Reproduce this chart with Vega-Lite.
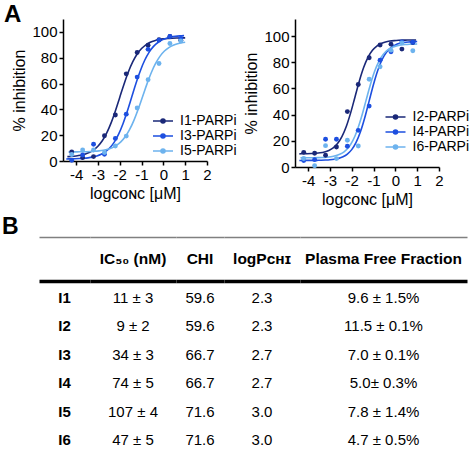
{
  "$schema": "https://vega.github.io/schema/vega-lite/v6.json",
  "padding": {"left": 2, "top": 3, "right": 0, "bottom": 0},
  "background": "white",
  "config": {
    "font": "Liberation Sans",
    "view": {"stroke": null},
    "title": {"color": "black", "font": "Liberation Sans"},
    "axis": {"domainColor": "black", "domainWidth": 1.5, "tickColor": "black", "tickWidth": 1.5, "tickSize": 4, "labelColor": "black", "labelFontSize": 15, "titleFontSize": 16, "titleFontWeight": "normal", "titleColor": "black", "grid": false, "labelPadding": 2, "labelOverlap": false},
    "legend": {"labelColor": "black", "labelFontSize": 14}
  },
  "datasets": {
    "pts": [
      {"s":"I1-PARPi","x":-4.2,"y":7},{"s":"I1-PARPi","x":-3.7,"y":2.6},{"s":"I1-PARPi","x":-3.2,"y":3.4},{"s":"I1-PARPi","x":-2.7,"y":19.6},{"s":"I1-PARPi","x":-2.2,"y":35.6},{"s":"I1-PARPi","x":-1.7,"y":67.5},{"s":"I1-PARPi","x":-1.2,"y":84},{"s":"I1-PARPi","x":-0.7,"y":89.7},{"s":"I1-PARPi","x":-0.2,"y":94},{"s":"I1-PARPi","x":0.3,"y":96.5},{"s":"I1-PARPi","x":0.8,"y":93.5},
      {"s":"I3-PARPi","x":-4.2,"y":0.5},{"s":"I3-PARPi","x":-3.7,"y":4.6},{"s":"I3-PARPi","x":-3.2,"y":13},{"s":"I3-PARPi","x":-2.7,"y":5.2},{"s":"I3-PARPi","x":-2.2,"y":17.5},{"s":"I3-PARPi","x":-1.7,"y":36.3},{"s":"I3-PARPi","x":-1.2,"y":65},{"s":"I3-PARPi","x":-0.7,"y":86.5},{"s":"I3-PARPi","x":-0.2,"y":93.6},{"s":"I3-PARPi","x":0.3,"y":96.5},{"s":"I3-PARPi","x":0.8,"y":95},
      {"s":"I5-PARPi","x":-4.2,"y":5},{"s":"I5-PARPi","x":-3.7,"y":8.5},{"s":"I5-PARPi","x":-3.2,"y":8.5},{"s":"I5-PARPi","x":-2.7,"y":6.5},{"s":"I5-PARPi","x":-2.2,"y":11.6},{"s":"I5-PARPi","x":-1.7,"y":19.3},{"s":"I5-PARPi","x":-1.2,"y":41},{"s":"I5-PARPi","x":-0.7,"y":63},{"s":"I5-PARPi","x":-0.2,"y":75.5},{"s":"I5-PARPi","x":0.3,"y":91},{"s":"I5-PARPi","x":0.8,"y":93},
      {"s":"I2-PARPi","x":-4.2,"y":11.2},{"s":"I2-PARPi","x":-3.7,"y":10.5},{"s":"I2-PARPi","x":-3.2,"y":9},{"s":"I2-PARPi","x":-2.7,"y":15.3},{"s":"I2-PARPi","x":-2.2,"y":42.3},{"s":"I2-PARPi","x":-1.7,"y":63},{"s":"I2-PARPi","x":-1.2,"y":83.4},{"s":"I2-PARPi","x":-0.7,"y":93.2},{"s":"I2-PARPi","x":-0.2,"y":93.8},{"s":"I2-PARPi","x":0.3,"y":90},{"s":"I2-PARPi","x":0.8,"y":95},
      {"s":"I4-PARPi","x":-4.2,"y":5},{"s":"I4-PARPi","x":-3.7,"y":5.6},{"s":"I4-PARPi","x":-3.2,"y":21.2},{"s":"I4-PARPi","x":-2.7,"y":21.2},{"s":"I4-PARPi","x":-2.2,"y":15.8},{"s":"I4-PARPi","x":-1.7,"y":28},{"s":"I4-PARPi","x":-1.2,"y":46.5},{"s":"I4-PARPi","x":-0.7,"y":81.6},{"s":"I4-PARPi","x":-0.2,"y":88},{"s":"I4-PARPi","x":0.3,"y":95.5},{"s":"I4-PARPi","x":0.8,"y":95.2},
      {"s":"I6-PARPi","x":-4.2,"y":6.5},{"s":"I6-PARPi","x":-3.7,"y":1},{"s":"I6-PARPi","x":-3.2,"y":16.3},{"s":"I6-PARPi","x":-2.7,"y":6.4},{"s":"I6-PARPi","x":-2.2,"y":20.4},{"s":"I6-PARPi","x":-1.7,"y":16},{"s":"I6-PARPi","x":-1.2,"y":67},{"s":"I6-PARPi","x":-0.7,"y":76.5},{"s":"I6-PARPi","x":-0.2,"y":89.2},{"s":"I6-PARPi","x":0.3,"y":94.8},{"s":"I6-PARPi","x":0.8,"y":88.8}
    ],
    "fit": [
      {"s":"I1-PARPi","x":-4.4,"y":3.37},{"s":"I1-PARPi","x":-4.2,"y":3.58},{"s":"I1-PARPi","x":-4.0,"y":3.92},{"s":"I1-PARPi","x":-3.8,"y":4.44},{"s":"I1-PARPi","x":-3.6,"y":5.27},{"s":"I1-PARPi","x":-3.4,"y":6.54},{"s":"I1-PARPi","x":-3.2,"y":8.49},{"s":"I1-PARPi","x":-3.0,"y":11.41},{"s":"I1-PARPi","x":-2.8,"y":15.65},{"s":"I1-PARPi","x":-2.6,"y":21.57},{"s":"I1-PARPi","x":-2.4,"y":29.33},{"s":"I1-PARPi","x":-2.2,"y":38.79},{"s":"I1-PARPi","x":-2.0,"y":49.25},{"s":"I1-PARPi","x":-1.8,"y":59.71},{"s":"I1-PARPi","x":-1.6,"y":69.17},{"s":"I1-PARPi","x":-1.4,"y":76.93},{"s":"I1-PARPi","x":-1.2,"y":82.85},{"s":"I1-PARPi","x":-1.0,"y":87.09},{"s":"I1-PARPi","x":-0.8,"y":90.01},{"s":"I1-PARPi","x":-0.6,"y":91.96},{"s":"I1-PARPi","x":-0.4,"y":93.23},{"s":"I1-PARPi","x":-0.2,"y":94.06},{"s":"I1-PARPi","x":0.0,"y":94.58},{"s":"I1-PARPi","x":0.2,"y":94.92},{"s":"I1-PARPi","x":0.4,"y":95.13},{"s":"I1-PARPi","x":0.6,"y":95.27},{"s":"I1-PARPi","x":0.8,"y":95.35},{"s":"I1-PARPi","x":1.0,"y":95.41},
      {"s":"I3-PARPi","x":-4.45,"y":1.6},{"s":"I3-PARPi","x":-4.25,"y":1.65},{"s":"I3-PARPi","x":-4.05,"y":1.74},{"s":"I3-PARPi","x":-3.85,"y":1.88},{"s":"I3-PARPi","x":-3.65,"y":2.1},{"s":"I3-PARPi","x":-3.45,"y":2.45},{"s":"I3-PARPi","x":-3.25,"y":3.0},{"s":"I3-PARPi","x":-3.05,"y":3.85},{"s":"I3-PARPi","x":-2.85,"y":5.18},{"s":"I3-PARPi","x":-2.65,"y":7.2},{"s":"I3-PARPi","x":-2.45,"y":10.23},{"s":"I3-PARPi","x":-2.25,"y":14.63},{"s":"I3-PARPi","x":-2.05,"y":20.78},{"s":"I3-PARPi","x":-1.85,"y":28.83},{"s":"I3-PARPi","x":-1.65,"y":38.64},{"s":"I3-PARPi","x":-1.45,"y":49.5},{"s":"I3-PARPi","x":-1.25,"y":60.36},{"s":"I3-PARPi","x":-1.05,"y":70.17},{"s":"I3-PARPi","x":-0.85,"y":78.22},{"s":"I3-PARPi","x":-0.65,"y":84.37},{"s":"I3-PARPi","x":-0.45,"y":88.77},{"s":"I3-PARPi","x":-0.25,"y":91.8},{"s":"I3-PARPi","x":-0.05,"y":93.82},{"s":"I3-PARPi","x":0.15,"y":95.15},{"s":"I3-PARPi","x":0.35,"y":96.0},{"s":"I3-PARPi","x":0.55,"y":96.55},{"s":"I3-PARPi","x":0.75,"y":96.9},{"s":"I3-PARPi","x":0.95,"y":97.12},
      {"s":"I5-PARPi","x":-4.35,"y":7.03},{"s":"I5-PARPi","x":-4.15,"y":7.05},{"s":"I5-PARPi","x":-3.95,"y":7.09},{"s":"I5-PARPi","x":-3.75,"y":7.14},{"s":"I5-PARPi","x":-3.55,"y":7.22},{"s":"I5-PARPi","x":-3.35,"y":7.34},{"s":"I5-PARPi","x":-3.15,"y":7.54},{"s":"I5-PARPi","x":-2.95,"y":7.85},{"s":"I5-PARPi","x":-2.75,"y":8.34},{"s":"I5-PARPi","x":-2.55,"y":9.11},{"s":"I5-PARPi","x":-2.35,"y":10.29},{"s":"I5-PARPi","x":-2.15,"y":12.11},{"s":"I5-PARPi","x":-1.95,"y":14.82},{"s":"I5-PARPi","x":-1.75,"y":18.76},{"s":"I5-PARPi","x":-1.55,"y":24.27},{"s":"I5-PARPi","x":-1.35,"y":31.48},{"s":"I5-PARPi","x":-1.15,"y":40.27},{"s":"I5-PARPi","x":-0.95,"y":50.0},{"s":"I5-PARPi","x":-0.75,"y":59.73},{"s":"I5-PARPi","x":-0.55,"y":68.52},{"s":"I5-PARPi","x":-0.35,"y":75.73},{"s":"I5-PARPi","x":-0.15,"y":81.24},{"s":"I5-PARPi","x":0.05,"y":85.18},{"s":"I5-PARPi","x":0.25,"y":87.89},{"s":"I5-PARPi","x":0.45,"y":89.71},{"s":"I5-PARPi","x":0.65,"y":90.89},{"s":"I5-PARPi","x":0.85,"y":91.66},{"s":"I5-PARPi","x":1.0,"y":92.05},
      {"s":"I2-PARPi","x":-4.4,"y":10.05},{"s":"I2-PARPi","x":-4.25,"y":10.09},{"s":"I2-PARPi","x":-4.05,"y":10.15},{"s":"I2-PARPi","x":-3.85,"y":10.27},{"s":"I2-PARPi","x":-3.65,"y":10.49},{"s":"I2-PARPi","x":-3.45,"y":10.86},{"s":"I2-PARPi","x":-3.25,"y":11.52},{"s":"I2-PARPi","x":-3.05,"y":12.67},{"s":"I2-PARPi","x":-2.85,"y":14.63},{"s":"I2-PARPi","x":-2.65,"y":17.91},{"s":"I2-PARPi","x":-2.45,"y":23.14},{"s":"I2-PARPi","x":-2.25,"y":30.91},{"s":"I2-PARPi","x":-2.05,"y":41.32},{"s":"I2-PARPi","x":-1.85,"y":53.5},{"s":"I2-PARPi","x":-1.65,"y":65.68},{"s":"I2-PARPi","x":-1.45,"y":76.09},{"s":"I2-PARPi","x":-1.25,"y":83.86},{"s":"I2-PARPi","x":-1.05,"y":89.09},{"s":"I2-PARPi","x":-0.85,"y":92.37},{"s":"I2-PARPi","x":-0.65,"y":94.33},{"s":"I2-PARPi","x":-0.45,"y":95.48},{"s":"I2-PARPi","x":-0.25,"y":96.14},{"s":"I2-PARPi","x":-0.05,"y":96.51},{"s":"I2-PARPi","x":0.15,"y":96.73},{"s":"I2-PARPi","x":0.35,"y":96.85},{"s":"I2-PARPi","x":0.55,"y":96.91},{"s":"I2-PARPi","x":0.75,"y":96.95},{"s":"I2-PARPi","x":0.95,"y":96.97},
      {"s":"I4-PARPi","x":-4.4,"y":5.01},{"s":"I4-PARPi","x":-4.2,"y":5.02},{"s":"I4-PARPi","x":-4.0,"y":5.03},{"s":"I4-PARPi","x":-3.8,"y":5.05},{"s":"I4-PARPi","x":-3.6,"y":5.09},{"s":"I4-PARPi","x":-3.4,"y":5.16},{"s":"I4-PARPi","x":-3.2,"y":5.29},{"s":"I4-PARPi","x":-3.0,"y":5.51},{"s":"I4-PARPi","x":-2.8,"y":5.9},{"s":"I4-PARPi","x":-2.6,"y":6.59},{"s":"I4-PARPi","x":-2.4,"y":7.79},{"s":"I4-PARPi","x":-2.2,"y":9.84},{"s":"I4-PARPi","x":-2.0,"y":13.27},{"s":"I4-PARPi","x":-1.8,"y":18.74},{"s":"I4-PARPi","x":-1.6,"y":26.87},{"s":"I4-PARPi","x":-1.4,"y":37.76},{"s":"I4-PARPi","x":-1.2,"y":50.5},{"s":"I4-PARPi","x":-1.0,"y":63.24},{"s":"I4-PARPi","x":-0.8,"y":74.13},{"s":"I4-PARPi","x":-0.6,"y":82.26},{"s":"I4-PARPi","x":-0.4,"y":87.73},{"s":"I4-PARPi","x":-0.2,"y":91.16},{"s":"I4-PARPi","x":0.0,"y":93.21},{"s":"I4-PARPi","x":0.2,"y":94.41},{"s":"I4-PARPi","x":0.4,"y":95.1},{"s":"I4-PARPi","x":0.6,"y":95.49},{"s":"I4-PARPi","x":0.8,"y":95.71},{"s":"I4-PARPi","x":1.0,"y":95.84},
      {"s":"I6-PARPi","x":-4.35,"y":7.02},{"s":"I6-PARPi","x":-4.15,"y":7.03},{"s":"I6-PARPi","x":-3.95,"y":7.05},{"s":"I6-PARPi","x":-3.75,"y":7.09},{"s":"I6-PARPi","x":-3.55,"y":7.15},{"s":"I6-PARPi","x":-3.35,"y":7.27},{"s":"I6-PARPi","x":-3.15,"y":7.49},{"s":"I6-PARPi","x":-2.95,"y":7.86},{"s":"I6-PARPi","x":-2.75,"y":8.52},{"s":"I6-PARPi","x":-2.55,"y":9.67},{"s":"I6-PARPi","x":-2.35,"y":11.63},{"s":"I6-PARPi","x":-2.15,"y":14.91},{"s":"I6-PARPi","x":-1.95,"y":20.14},{"s":"I6-PARPi","x":-1.75,"y":27.91},{"s":"I6-PARPi","x":-1.55,"y":38.32},{"s":"I6-PARPi","x":-1.35,"y":50.5},{"s":"I6-PARPi","x":-1.15,"y":62.68},{"s":"I6-PARPi","x":-0.95,"y":73.09},{"s":"I6-PARPi","x":-0.75,"y":80.86},{"s":"I6-PARPi","x":-0.55,"y":86.09},{"s":"I6-PARPi","x":-0.35,"y":89.37},{"s":"I6-PARPi","x":-0.15,"y":91.33},{"s":"I6-PARPi","x":0.05,"y":92.48},{"s":"I6-PARPi","x":0.25,"y":93.14},{"s":"I6-PARPi","x":0.45,"y":93.51},{"s":"I6-PARPi","x":0.65,"y":93.73},{"s":"I6-PARPi","x":0.85,"y":93.85},{"s":"I6-PARPi","x":1.0,"y":93.9}
    ],
    "hdr": [
      {"col":"label","t":""},
      {"col":"ic50","t":"IC₅₀ (nM)"},
      {"col":"chi","t":"CHI"},
      {"col":"logp","t":"logPᴄʜɪ"},
      {"col":"pff","t":"Plasma Free Fraction"}
    ],
    "cells": [
      {"r":"I1","col":"label","t":"I1"},{"r":"I1","col":"ic50","t":"11 ± 3"},{"r":"I1","col":"chi","t":"59.6"},{"r":"I1","col":"logp","t":"2.3"},{"r":"I1","col":"pff","t":"9.6 ± 1.5%"},
      {"r":"I2","col":"label","t":"I2"},{"r":"I2","col":"ic50","t":"9 ± 2"},{"r":"I2","col":"chi","t":"59.6"},{"r":"I2","col":"logp","t":"2.3"},{"r":"I2","col":"pff","t":"11.5 ± 0.1%"},
      {"r":"I3","col":"label","t":"I3"},{"r":"I3","col":"ic50","t":"34 ± 3"},{"r":"I3","col":"chi","t":"66.7"},{"r":"I3","col":"logp","t":"2.7"},{"r":"I3","col":"pff","t":"7.0 ± 0.1%"},
      {"r":"I4","col":"label","t":"I4"},{"r":"I4","col":"ic50","t":"74 ± 5"},{"r":"I4","col":"chi","t":"66.7"},{"r":"I4","col":"logp","t":"2.7"},{"r":"I4","col":"pff","t":"5.0± 0.3%"},
      {"r":"I5","col":"label","t":"I5"},{"r":"I5","col":"ic50","t":"107 ± 4"},{"r":"I5","col":"chi","t":"71.6"},{"r":"I5","col":"logp","t":"3.0"},{"r":"I5","col":"pff","t":"7.8 ± 1.4%"},
      {"r":"I6","col":"label","t":"I6"},{"r":"I6","col":"ic50","t":"47 ± 5"},{"r":"I6","col":"chi","t":"71.6"},{"r":"I6","col":"logp","t":"3.0"},{"r":"I6","col":"pff","t":"4.7 ± 0.5%"}
    ]
  },
  "columns": 1,
  "align": "none",
  "spacing": 9,
  "concat": [
    {
      "hconcat": [
        {"width": 1, "height": 1, "data": {"name": "hdr"}, "transform": [{"filter": "datum.col == 'label'"}], "mark": {"type": "text"}, "encoding": {}},
        {
          "hconcat": [
            {
              "title": {"text": "A", "anchor": "start", "frame": "bounds", "fontSize": 24, "fontWeight": "bold", "dx": -8, "offset": -8},
              "width": 144, "height": 142,
              "encoding": {
                "x": {"field": "x", "type": "quantitative", "scale": {"domain": [-4.6, 2], "nice": false, "zero": false}, "axis": {"values": [-4, -3, -2, -1, 0, 1, 2], "labelExpr": "'' + datum.value", "title": "logᴄᴏɴᴄ [μM]", "titlePadding": 3, "labelFlush": false, "labelOverlap": false}},
                "y": {"field": "y", "type": "quantitative", "scale": {"domain": [0, 110], "nice": false}, "axis": {"values": [0, 20, 40, 60, 80, 100], "title": "% inhibition", "titlePadding": 4, "labelOverlap": false}},
                "color": {"field": "s", "type": "nominal", "scale": {"domain": ["I1-PARPi", "I3-PARPi", "I5-PARPi"], "range": ["#1a2878", "#1d4fe0", "#6db3ee"]},
                  "legend": {"orient": "none", "legendX": 93, "legendY": 95, "title": null, "symbolType": "M-2.5,0H2.5M-0.5,0A0.5,0.5,0,1,1,0.5,0A0.5,0.5,0,1,1,-0.5,0", "symbolSize": 64, "symbolStrokeWidth": 1.6, "labelOffset": 10, "rowPadding": 1}}
              },
              "layer": [
                {
                  "data": {"name": "fit"},
                  "transform": [{"filter": {"field": "s", "oneOf": ["I1-PARPi", "I3-PARPi", "I5-PARPi"]}}],
                  "mark": {"type": "line", "strokeWidth": 1.6, "interpolate": "monotone"}
                },
                {
                  "data": {"name": "pts"},
                  "transform": [{"filter": {"field": "s", "oneOf": ["I1-PARPi", "I3-PARPi", "I5-PARPi"]}}],
                  "mark": {"type": "circle", "size": 24, "opacity": 1}
                }
              ]
            },
            {
              "width": 144, "height": 148,
              "encoding": {
                "x": {"field": "x", "type": "quantitative", "scale": {"domain": [-4.6, 2], "nice": false, "zero": false}, "axis": {"values": [-4, -3, -2, -1, 0, 1, 2], "labelExpr": "'' + datum.value", "title": "logᴄᴏɴᴄ [μM]", "titlePadding": 3, "labelFlush": false, "labelOverlap": false}},
                "y": {"field": "y", "type": "quantitative", "scale": {"domain": [0, 113], "nice": false}, "axis": {"values": [0, 20, 40, 60, 80, 100], "title": "% inhibition", "titlePadding": 4, "labelOverlap": false}},
                "color": {"field": "s", "type": "nominal", "scale": {"domain": ["I2-PARPi", "I4-PARPi", "I6-PARPi"], "range": ["#1a2878", "#1d4fe0", "#6db3ee"]},
                  "legend": {"orient": "none", "legendX": 93.5, "legendY": 91, "title": null, "symbolType": "M-2.5,0H2.5M-0.5,0A0.5,0.5,0,1,1,0.5,0A0.5,0.5,0,1,1,-0.5,0", "symbolSize": 64, "symbolStrokeWidth": 1.6, "labelOffset": 10, "rowPadding": 1}}
              },
              "layer": [
                {
                  "data": {"name": "fit"},
                  "transform": [{"filter": {"field": "s", "oneOf": ["I2-PARPi", "I4-PARPi", "I6-PARPi"]}}],
                  "mark": {"type": "line", "strokeWidth": 1.6, "interpolate": "monotone"}
                },
                {
                  "data": {"name": "pts"},
                  "transform": [{"filter": {"field": "s", "oneOf": ["I2-PARPi", "I4-PARPi", "I6-PARPi"]}}],
                  "mark": {"type": "circle", "size": 24, "opacity": 1}
                }
              ]
            }
          ],
          "spacing": 6,
          "resolve": {"scale": {"color": "independent"}, "legend": {"color": "independent"}}
        }
      ],
      "spacing": 0
    },
    {
      "title": {"text": "B", "anchor": "start", "frame": "bounds", "fontSize": 23, "fontWeight": "bold", "offset": -2},
      "columns": 6,
      "spacing": 0,
      "align": "each",
      "concat": [
        {"width": 37, "height": 44, "data": {"name": "hdr"}, "transform": [{"filter": "datum.col == 'label'"}], "mark": {"type": "text"}, "encoding": {}},
        {"width": 51, "height": 44, "data": {"name": "hdr"}, "transform": [{"filter": "datum.col == 'label'"}], "mark": {"type": "text", "fontWeight": "bold", "fontSize": 15.5, "color": "black"}, "encoding": {"x": {"field": "col", "type": "nominal", "axis": {"orient": "top", "domainColor": "#808080", "domainWidth": 1.6, "ticks": false, "labels": false, "title": null}}, "text": {"field": "t"}}},
        {"width": 86, "height": 44, "data": {"name": "hdr"}, "transform": [{"filter": "datum.col == 'ic50'"}], "mark": {"type": "text", "fontWeight": "bold", "fontSize": 15.5, "color": "black"}, "encoding": {"x": {"field": "col", "type": "nominal", "axis": {"orient": "top", "domainColor": "#808080", "domainWidth": 1.6, "ticks": false, "labels": false, "title": null}}, "text": {"field": "t"}}},
        {"width": 48, "height": 44, "data": {"name": "hdr"}, "transform": [{"filter": "datum.col == 'chi'"}], "mark": {"type": "text", "fontWeight": "bold", "fontSize": 15.5, "color": "black"}, "encoding": {"x": {"field": "col", "type": "nominal", "axis": {"orient": "top", "domainColor": "#808080", "domainWidth": 1.6, "ticks": false, "labels": false, "title": null}}, "text": {"field": "t"}}},
        {"width": 76, "height": 44, "data": {"name": "hdr"}, "transform": [{"filter": "datum.col == 'logp'"}], "mark": {"type": "text", "fontWeight": "bold", "fontSize": 15.5, "color": "black"}, "encoding": {"x": {"field": "col", "type": "nominal", "axis": {"orient": "top", "domainColor": "#808080", "domainWidth": 1.6, "ticks": false, "labels": false, "title": null}}, "text": {"field": "t"}}},
        {"width": 167, "height": 44, "data": {"name": "hdr"}, "transform": [{"filter": "datum.col == 'pff'"}], "mark": {"type": "text", "fontWeight": "bold", "fontSize": 15.5, "color": "black"}, "encoding": {"x": {"field": "col", "type": "nominal", "axis": {"orient": "top", "domainColor": "#808080", "domainWidth": 1.6, "ticks": false, "labels": false, "title": null}}, "text": {"field": "t"}}},
        {"width": 37, "height": 176, "data": {"name": "hdr"}, "transform": [{"filter": "datum.col == 'label'"}], "mark": {"type": "text"}, "encoding": {}},
        {"width": 51, "height": 176, "data": {"name": "cells"}, "transform": [{"filter": "datum.col == 'label'"}], "mark": {"type": "text", "fontWeight": "bold", "fontSize": 15, "color": "black"}, "encoding": {"x": {"field": "col", "type": "nominal", "axis": {"orient": "top", "domainColor": "black", "domainWidth": 3.5, "ticks": false, "labels": false, "title": null}}, "y": {"field": "r", "type": "nominal", "scale": {"type": "point", "domain": ["I1", "I2", "I3", "I4", "I5", "I6"], "padding": 0.6}, "axis": null}, "text": {"field": "t"}}},
        {"width": 86, "height": 176, "data": {"name": "cells"}, "transform": [{"filter": "datum.col == 'ic50'"}], "mark": {"type": "text", "fontSize": 15, "color": "black"}, "encoding": {"x": {"field": "col", "type": "nominal", "axis": {"orient": "top", "domainColor": "black", "domainWidth": 3.5, "ticks": false, "labels": false, "title": null}}, "y": {"field": "r", "type": "nominal", "scale": {"type": "point", "domain": ["I1", "I2", "I3", "I4", "I5", "I6"], "padding": 0.6}, "axis": null}, "text": {"field": "t"}}},
        {"width": 48, "height": 176, "data": {"name": "cells"}, "transform": [{"filter": "datum.col == 'chi'"}], "mark": {"type": "text", "fontSize": 15, "color": "black"}, "encoding": {"x": {"field": "col", "type": "nominal", "axis": {"orient": "top", "domainColor": "black", "domainWidth": 3.5, "ticks": false, "labels": false, "title": null}}, "y": {"field": "r", "type": "nominal", "scale": {"type": "point", "domain": ["I1", "I2", "I3", "I4", "I5", "I6"], "padding": 0.6}, "axis": null}, "text": {"field": "t"}}},
        {"width": 76, "height": 176, "data": {"name": "cells"}, "transform": [{"filter": "datum.col == 'logp'"}], "mark": {"type": "text", "fontSize": 15, "color": "black"}, "encoding": {"x": {"field": "col", "type": "nominal", "axis": {"orient": "top", "domainColor": "black", "domainWidth": 3.5, "ticks": false, "labels": false, "title": null}}, "y": {"field": "r", "type": "nominal", "scale": {"type": "point", "domain": ["I1", "I2", "I3", "I4", "I5", "I6"], "padding": 0.6}, "axis": null}, "text": {"field": "t"}}},
        {"width": 167, "height": 176, "data": {"name": "cells"}, "transform": [{"filter": "datum.col == 'pff'"}], "mark": {"type": "text", "fontSize": 15, "color": "black"}, "encoding": {"x": {"field": "col", "type": "nominal", "axis": {"orient": "top", "domainColor": "black", "domainWidth": 3.5, "ticks": false, "labels": false, "title": null}}, "y": {"field": "r", "type": "nominal", "scale": {"type": "point", "domain": ["I1", "I2", "I3", "I4", "I5", "I6"], "padding": 0.6}, "axis": null}, "text": {"field": "t"}}},
        {"width": 37, "height": 1, "data": {"name": "hdr"}, "transform": [{"filter": "datum.col == 'label'"}], "mark": {"type": "text"}, "encoding": {}},
        {"width": 51, "height": 1, "data": {"name": "hdr"}, "transform": [{"filter": "datum.col == 'label'"}], "mark": {"type": "text"}, "encoding": {"x": {"field": "col", "type": "nominal", "axis": {"orient": "top", "domainColor": "#808080", "domainWidth": 1.6, "ticks": false, "labels": false, "title": null}}}},
        {"width": 86, "height": 1, "data": {"name": "hdr"}, "transform": [{"filter": "datum.col == 'ic50'"}], "mark": {"type": "text"}, "encoding": {"x": {"field": "col", "type": "nominal", "axis": {"orient": "top", "domainColor": "#808080", "domainWidth": 1.6, "ticks": false, "labels": false, "title": null}}}},
        {"width": 48, "height": 1, "data": {"name": "hdr"}, "transform": [{"filter": "datum.col == 'chi'"}], "mark": {"type": "text"}, "encoding": {"x": {"field": "col", "type": "nominal", "axis": {"orient": "top", "domainColor": "#808080", "domainWidth": 1.6, "ticks": false, "labels": false, "title": null}}}},
        {"width": 76, "height": 1, "data": {"name": "hdr"}, "transform": [{"filter": "datum.col == 'logp'"}], "mark": {"type": "text"}, "encoding": {"x": {"field": "col", "type": "nominal", "axis": {"orient": "top", "domainColor": "#808080", "domainWidth": 1.6, "ticks": false, "labels": false, "title": null}}}},
        {"width": 167, "height": 1, "data": {"name": "hdr"}, "transform": [{"filter": "datum.col == 'pff'"}], "mark": {"type": "text"}, "encoding": {"x": {"field": "col", "type": "nominal", "axis": {"orient": "top", "domainColor": "#808080", "domainWidth": 1.6, "ticks": false, "labels": false, "title": null}}}}
      ]
    }
  ]
}
